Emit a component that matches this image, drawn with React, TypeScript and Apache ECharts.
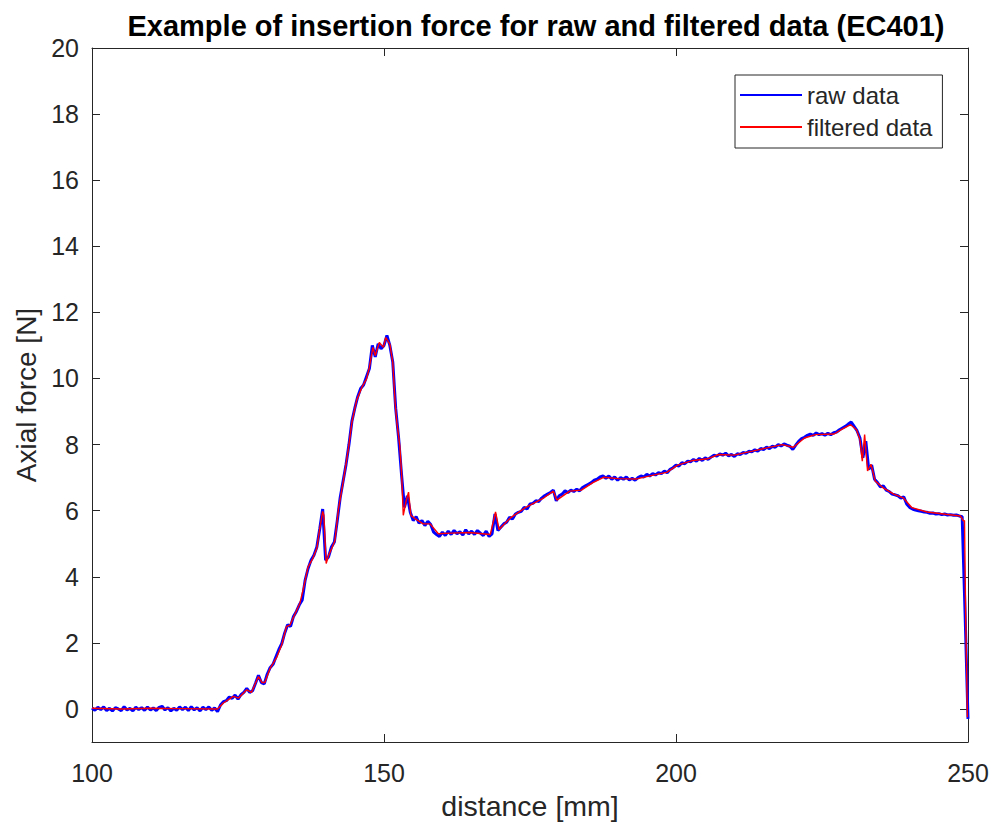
import React, { useEffect, useRef } from "react";
import * as echarts from "echarts";

const xTicks = [100, 150, 200, 250];
const yTicks = [0, 2, 4, 6, 8, 10, 12, 14, 16, 18, 20];

// raw data: each row covers 5 mm, sampled every 0.5 mm, row i starts at 100 + 5 * i
const rawRows: number[][] = [
  [0.03, -0.04, 0.05, -0.02, 0.06, -0.05, 0.02, -0.06, 0.04, 0.0],
  [-0.05, 0.07, -0.03, 0.02, -0.06, 0.05, -0.02, 0.04, -0.04, 0.06],
  [-0.03, 0.03, -0.05, 0.05, 0.08, -0.03, 0.04, -0.06, 0.02, -0.04],
  [0.06, -0.02, 0.05, -0.05, 0.07, -0.03, 0.04, -0.06, 0.05, -0.02],
  [0.06, -0.04, 0.03, -0.08, 0.12, 0.22, 0.25, 0.36, 0.32, 0.42],
  [0.3, 0.43, 0.5, 0.62, 0.5, 0.55, 0.78, 1.02, 0.8, 0.76],
  [1.05, 1.25, 1.35, 1.58, 1.8, 1.98, 2.3, 2.55, 2.5, 2.8],
  [2.95, 3.15, 3.3, 3.9, 4.25, 4.5, 4.65, 4.9, 5.45, 6.05],
  [4.5, 4.6, 4.9, 5.05, 5.7, 6.4, 6.9, 7.4, 8.0, 8.7],
  [9.1, 9.45, 9.7, 9.8, 10.05, 10.3, 11.0, 10.65, 11.05, 10.9],
  [11.0, 11.3, 11.0, 10.5, 9.1, 8.2, 7.1, 6.1, 6.45, 5.95],
  [5.7, 5.82, 5.62, 5.7, 5.55, 5.68, 5.58, 5.35, 5.28, 5.22],
  [5.35, 5.25, 5.38, 5.28, 5.4, 5.3, 5.36, 5.26, 5.42, 5.3],
  [5.38, 5.28, 5.4, 5.32, 5.25, 5.38, 5.22, 5.3, 5.9, 5.4],
  [5.5, 5.6, 5.65, 5.8, 5.75, 5.9, 5.95, 5.98, 6.1, 6.05],
  [6.2, 6.22, 6.3, 6.28, 6.38, 6.45, 6.5, 6.55, 6.62, 6.3],
  [6.45, 6.5, 6.6, 6.55, 6.62, 6.58, 6.65, 6.6, 6.7, 6.75],
  [6.8, 6.85, 6.92, 6.95, 7.02, 7.05, 6.98, 7.05, 6.95, 7.02],
  [6.92, 7.0, 6.95, 7.02, 6.93, 6.98, 6.92, 7.0, 7.05, 7.02],
  [7.1, 7.05, 7.12, 7.08, 7.15, 7.12, 7.2, 7.15, 7.25, 7.3],
  [7.38, 7.35, 7.45, 7.42, 7.5, 7.48, 7.55, 7.5, 7.58, 7.52],
  [7.6, 7.55, 7.62, 7.68, 7.65, 7.72, 7.68, 7.74, 7.66, 7.7],
  [7.64, 7.72, 7.7, 7.76, 7.74, 7.8, 7.78, 7.84, 7.8, 7.88],
  [7.85, 7.92, 7.88, 7.95, 7.92, 8.0, 7.96, 8.02, 7.98, 7.95],
  [7.85, 7.98, 8.1, 8.18, 8.22, 8.28, 8.32, 8.28, 8.35, 8.3],
  [8.33, 8.28, 8.34, 8.3, 8.36, 8.38, 8.45, 8.5, 8.55, 8.62],
  [8.68, 8.55, 8.42, 8.2, 7.6, 8.1, 7.25, 7.38, 6.95, 6.85],
  [6.72, 6.75, 6.62, 6.58, 6.5, 6.48, 6.45, 6.38, 6.42, 6.2],
  [6.1, 6.05, 6.02, 6.0, 5.98, 5.96, 5.95, 5.92, 5.93, 5.9],
  [5.91, 5.88, 5.9, 5.87, 5.88, 5.86, 5.87, 5.84, 5.82, 2.9],
];
const rawLast: [number, number] = [250, -0.3];

const filteredX = [
  100, 105, 110, 115, 121.5, 122.5, 124.2, 125.1, 126.5, 127.3, 128.5, 129.1, 129.6, 130.5, 131.6,
  132.5, 133.3, 133.9, 134.8, 135.6, 136.2, 137.0, 137.8, 138.5, 139.0, 139.5, 139.7, 140.1, 140.5,
  141.0, 141.6, 142.2, 143.0, 143.9, 144.5, 145.3, 146.2, 147.0, 147.5, 148.1, 148.5, 149.2, 149.9,
  150.3, 151.0, 151.5, 151.9, 152.2, 152.7, 153.0, 153.3, 153.8, 154.2, 154.6, 155.3, 156.7, 157.9,
  159.3, 161.5, 164.6, 168.2, 169.1, 169.7, 171.7, 174.2, 177.4, 179.0, 179.6, 181.8, 183.8, 185.7,
  187.6, 190.1, 193.3, 196.5, 198.4, 200.3, 202.9, 205.4, 207.3, 209.9, 213.1, 215.6, 218.2, 220.1,
  222.0, 223.9, 227.1, 228.3, 229.9, 230.9, 231.5, 231.9, 232.3, 232.8, 233.4, 234.1, 235.4, 237.3,
  238.9, 240.4, 243.0, 246.2, 248.7, 249.2, 249.4, 249.6, 249.9,
];
const filteredY = [
  0.02, 0.0, 0.02, 0.01, 0.0, 0.18, 0.38, 0.33, 0.58, 0.5, 0.98, 0.8, 0.8, 1.23, 1.55,
  1.95, 2.49, 2.54, 2.89, 3.2, 3.65, 4.3, 4.55, 4.86, 5.46, 5.98, 5.86, 4.4, 4.64,
  4.84, 5.09, 6.05, 6.86, 7.87, 8.67, 9.33, 9.73, 9.98, 10.34, 10.94, 10.69, 11.09, 10.94,
  11.24, 11.04, 10.49, 9.28, 8.67, 7.97, 7.16, 5.86, 6.3, 6.56, 5.86, 5.76, 5.6, 5.6,
  5.3, 5.32, 5.34, 5.28, 5.96, 5.43, 5.79, 6.09, 6.39, 6.59, 6.32, 6.59, 6.62, 6.84,
  7.01, 6.97, 6.96, 7.09, 7.16, 7.38, 7.52, 7.57, 7.7, 7.68, 7.8, 7.9, 8.0, 7.92,
  8.2, 8.3, 8.32, 8.45, 8.6, 8.45, 8.15, 7.5, 8.3, 7.2, 7.4, 6.9, 6.7, 6.5,
  6.39, 6.09, 5.96, 5.89, 5.84, 5.69, 5.7, 2.87, -0.25,
];

const AXIS_COLOR = "#262626";
const FONT = "'Liberation Sans', Arial, Helvetica, sans-serif";

export default function App() {
  const ref = useRef<HTMLDivElement>(null);
  useEffect(() => {
    document.body.style.margin = "0";
    if (!ref.current) return;
    const chart = echarts.init(ref.current, undefined, { renderer: "svg" });

    const rawData: [number, number][] = [];
    rawRows.forEach((row, i) => {
      row.forEach((v, j) => rawData.push([100 + i * 5 + j * 0.5, v]));
    });
    rawData.push(rawLast);
    const filteredData = filteredX.map((x, i) => [x, filteredY[i]]);

    const xBase = {
      type: "value" as const,
      min: 100,
      max: 250,
      interval: 50,
      splitLine: { show: false },
      axisLine: { show: true, onZero: false, lineStyle: { color: AXIS_COLOR, width: 1 } },
      axisTick: { show: true, inside: true, length: 8, lineStyle: { color: AXIS_COLOR } },
    };
    const yBase = {
      type: "value" as const,
      min: -1,
      max: 20,
      splitLine: { show: false },
      axisLine: { show: true, onZero: false, lineStyle: { color: AXIS_COLOR, width: 1 } },
      axisTick: { show: true, inside: true, length: 8, customValues: yTicks, lineStyle: { color: AXIS_COLOR } },
    };

    chart.setOption({
      animation: false,
      backgroundColor: "#ffffff",
      textStyle: { fontFamily: FONT },
      title: {
        text: "Example of insertion force for raw and filtered data (EC401)",
        left: 531,
        textAlign: "center",
        top: 6,
        textStyle: { fontFamily: FONT, fontSize: 29, fontWeight: "bold", color: "#000000" },
      },
      grid: { left: 92, right: 32, top: 48, bottom: 89, containLabel: false },
      legend: {
        orient: "vertical",
        left: 735,
        top: 75,
        data: [
          { name: "raw data", icon: "rect" },
          { name: "filtered data", icon: "rect" },
        ],
        itemWidth: 62,
        itemHeight: 2,
        itemGap: 8,
        padding: [8, 10, 9, 5],
        borderColor: AXIS_COLOR,
        borderWidth: 1,
        backgroundColor: "#ffffff",
        textStyle: { fontFamily: FONT, fontSize: 24, color: AXIS_COLOR, lineHeight: 24, padding: [0, 0, 0, 0] },
      },
      xAxis: [
        {
          ...xBase,
          position: "bottom",
          name: "distance [mm]",
          nameLocation: "middle",
          nameGap: 49,
          nameTextStyle: { fontFamily: FONT, fontSize: 28.5, color: AXIS_COLOR, verticalAlign: "top" },
          axisLabel: {
            show: true,
            margin: 18,
            fontFamily: FONT,
            fontSize: 25,
            color: AXIS_COLOR,
            customValues: xTicks,
          },
        },
        {
          ...xBase,
          position: "top",
          axisLabel: { show: false },
        },
      ],
      yAxis: [
        {
          ...yBase,
          position: "left",
          name: "Axial force [N]",
          nameLocation: "middle",
          nameGap: 50,
          nameTextStyle: { fontFamily: FONT, fontSize: 28, color: AXIS_COLOR },
          axisLabel: {
            show: true,
            margin: 13,
            fontFamily: FONT,
            fontSize: 25,
            color: AXIS_COLOR,
            customValues: yTicks,
          },
        },
        {
          ...yBase,
          position: "right",
          axisLabel: { show: false },
        },
      ],
      series: [
        {
          name: "raw data",
          type: "line",
          data: rawData,
          xAxisIndex: 0,
          yAxisIndex: 0,
          showSymbol: false,
          symbol: "none",
          lineStyle: { color: "#0000ff", width: 3 },
          itemStyle: { color: "#0000ff" },
        },
        {
          name: "filtered data",
          type: "line",
          data: filteredData,
          xAxisIndex: 0,
          yAxisIndex: 0,
          showSymbol: false,
          symbol: "none",
          lineStyle: { color: "#ff0000", width: 1.4 },
          itemStyle: { color: "#ff0000" },
        },
      ],
    });
    return () => chart.dispose();
  }, []);
  return <div ref={ref} style={{ width: 1000, height: 831 }} />;
}
